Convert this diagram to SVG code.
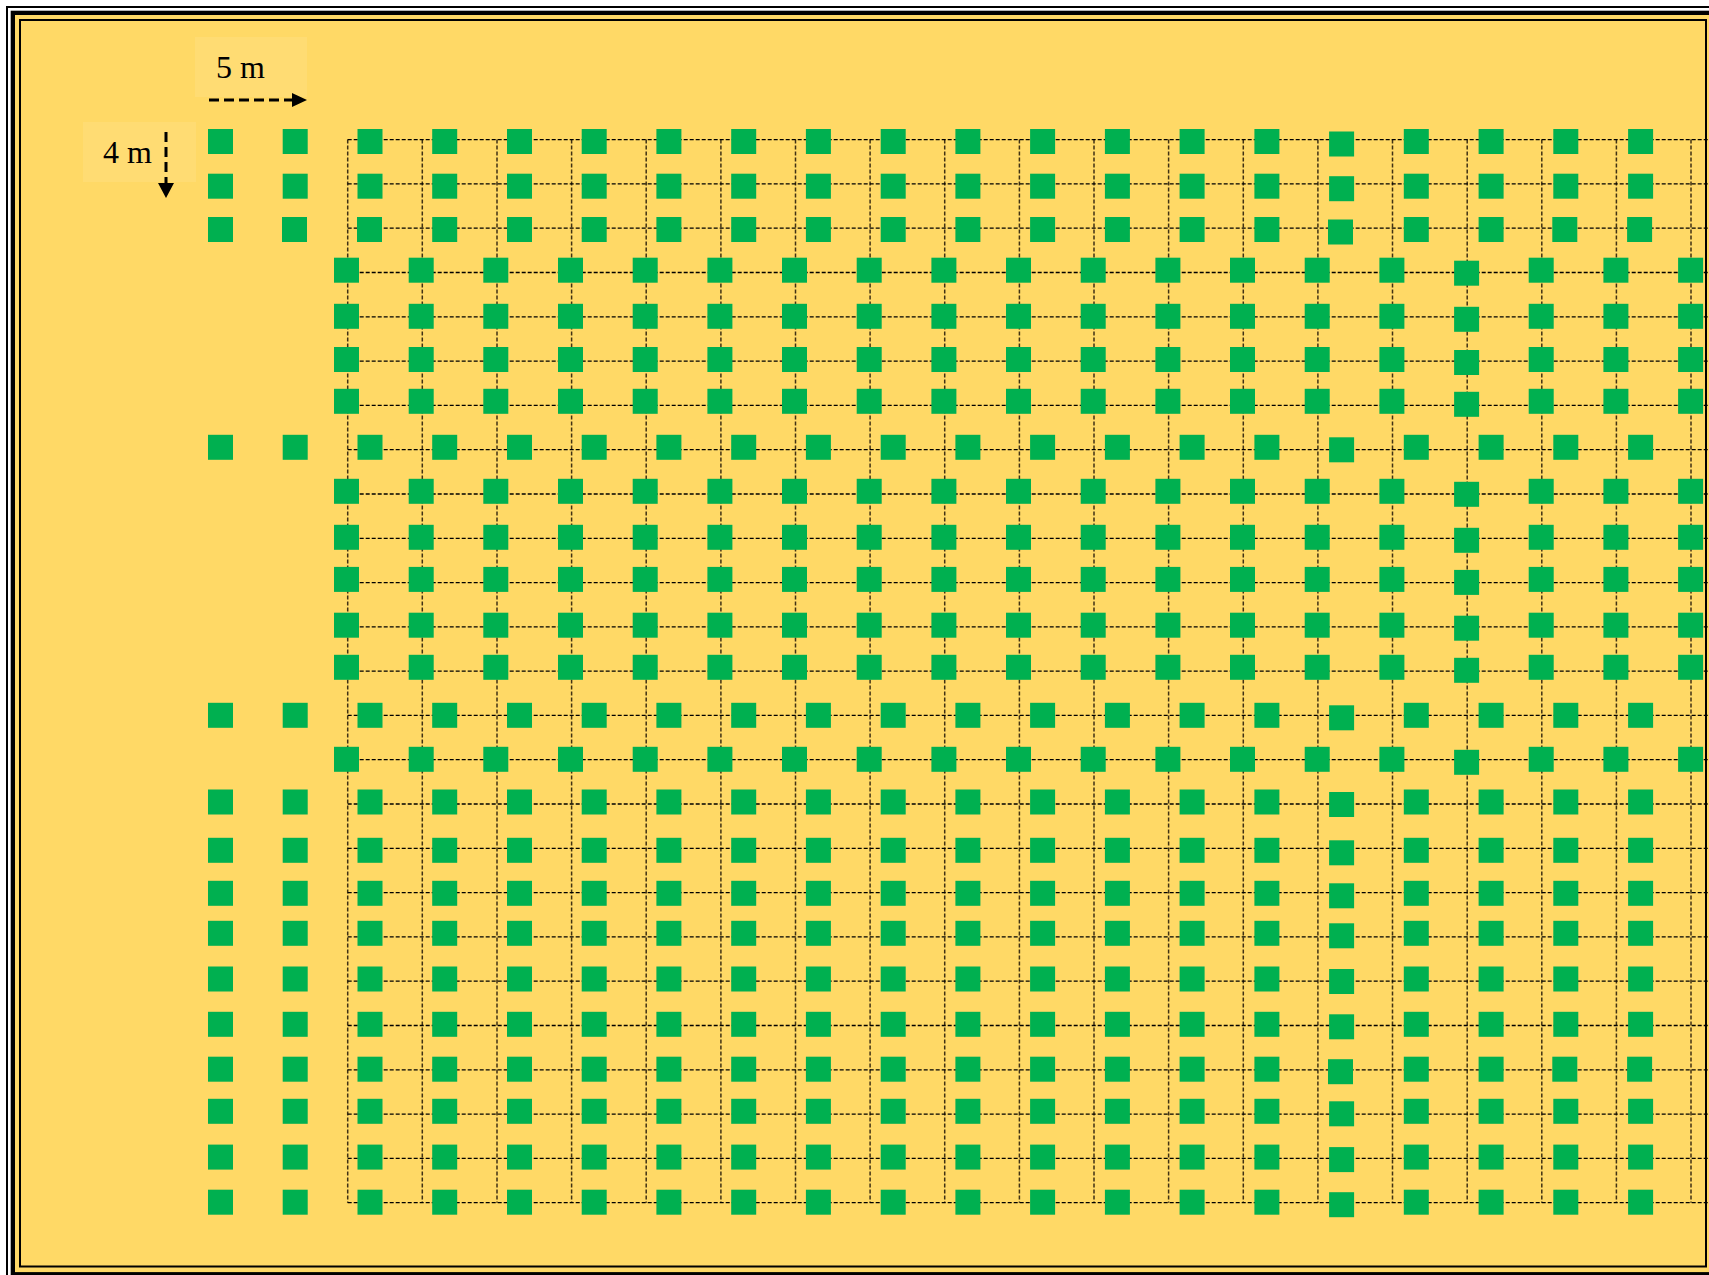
<svg xmlns="http://www.w3.org/2000/svg" xmlns:xlink="http://www.w3.org/1999/xlink" width="1709" height="1275" viewBox="0 0 1709 1275">
<style>
.p{fill:#00B050}
.h{fill:none;stroke:#000;stroke-width:1.3;stroke-dasharray:4 2}
.v{fill:none;stroke:#1e1406;stroke-width:1.5;stroke-dasharray:4 2;opacity:.85}
.lbl{font-family:"Liberation Serif","Times New Roman",serif;font-size:32px;fill:#000}
.box{fill:#fff;fill-opacity:.09}
.arr{fill:none;stroke:#000;stroke-width:3;stroke-dasharray:10 5}
</style>
<defs>
<rect id="s" class="p" width="25" height="25"/>
</defs>
<g id="frame">
<rect width="1709" height="1275" fill="#fff"/>
<rect x="7" y="7" width="1712" height="1273" fill="none" stroke="#000" stroke-width="2"/>
<rect x="12.85" y="12.85" width="1700.4" height="1261.4" fill="#FFD966" stroke="#000" stroke-width="4.3"/>
<rect x="20" y="20" width="1686" height="1246.5" fill="#FFD966" stroke="#000" stroke-width="2"/>
</g>
<g id="label-5m">
<rect class="box" x="195" y="37" width="112" height="60"/>
<text class="lbl" x="216" y="78">5 m</text>
<line class="arr" x1="209" y1="100" x2="292" y2="100"/>
<polygon points="292,93 307,100 292,107" fill="#000"/>
</g>
<g id="label-4m">
<rect class="box" x="83" y="122" width="113" height="60"/>
<text class="lbl" x="103" y="163">4 m</text>
<line class="arr" x1="166" y1="132" x2="166" y2="183"/>
<polygon points="158,183 174,183 166,198" fill="#000"/>
</g>
<g id="connectors">
<path class="v" d="M347.7 139.6V1202.7M422.3 139.6V1202.7M497 139.6V1202.7M571.6 139.6V1202.7M646.2 139.6V1202.7M720.9 139.6V1202.7M795.5 139.6V1202.7M870.1 139.6V1202.7M944.7 139.6V1202.7M1019.4 139.6V1202.7M1094 139.6V1202.7M1168.6 139.6V1202.7M1243.3 139.6V1202.7M1317.9 139.6V1202.7M1392.5 139.6V1202.7M1467.2 139.6V1202.7M1541.8 139.6V1202.7M1616.4 139.6V1202.7M1691 139.6V1202.7"/>
<path class="h" d="M347.7 139.6H1709M347.7 183.9H1709M347.7 228.2H1709M347.7 272.5H1709M347.7 316.8H1709M347.7 361.1H1709M347.7 405.4H1709M347.7 449.7H1709M347.7 494H1709M347.7 538.3H1709M347.7 582.6H1709M347.7 626.9H1709M347.7 671.2H1709M347.7 715.4H1709M347.7 759.7H1709M347.7 804H1709M347.7 848.3H1709M347.7 892.6H1709M347.7 936.9H1709M347.7 981.2H1709M347.7 1025.5H1709M347.7 1069.8H1709M347.7 1114.1H1709M347.7 1158.4H1709M347.7 1202.7H1709"/>
</g>
<g id="plants">
<g id="row01" transform="translate(0,129)"><use href="#s" x="208"/><use href="#s" x="282.7"/><use href="#s" x="357.5"/><use href="#s" x="432.2"/><use href="#s" x="507"/><use href="#s" x="581.7"/><use href="#s" x="656.4"/><use href="#s" x="731.2"/><use href="#s" x="805.9"/><use href="#s" x="880.7"/><use href="#s" x="955.4"/><use href="#s" x="1030.1"/><use href="#s" x="1104.9"/><use href="#s" x="1179.6"/><use href="#s" x="1254.4"/><use href="#s" x="1329.1" y="2.5"/><use href="#s" x="1403.8"/><use href="#s" x="1478.6"/><use href="#s" x="1553.3"/><use href="#s" x="1628.1"/></g>
<g id="row02" transform="translate(0,173.7)"><use href="#s" x="208"/><use href="#s" x="282.7"/><use href="#s" x="357.5"/><use href="#s" x="432.2"/><use href="#s" x="507"/><use href="#s" x="581.7"/><use href="#s" x="656.4"/><use href="#s" x="731.2"/><use href="#s" x="805.9"/><use href="#s" x="880.7"/><use href="#s" x="955.4"/><use href="#s" x="1030.1"/><use href="#s" x="1104.9"/><use href="#s" x="1179.6"/><use href="#s" x="1254.4"/><use href="#s" x="1329.1" y="2.5"/><use href="#s" x="1403.8"/><use href="#s" x="1478.6"/><use href="#s" x="1553.3"/><use href="#s" x="1628.1"/></g>
<g id="row03" transform="translate(0,217)"><use href="#s" x="208"/><use href="#s" x="282"/><use href="#s" x="357"/><use href="#s" x="432.2"/><use href="#s" x="507"/><use href="#s" x="581.7"/><use href="#s" x="656.4"/><use href="#s" x="731.2"/><use href="#s" x="805.9"/><use href="#s" x="880.7"/><use href="#s" x="955.4"/><use href="#s" x="1030.1"/><use href="#s" x="1104.9"/><use href="#s" x="1179.6"/><use href="#s" x="1254.4"/><use href="#s" x="1328" y="2.5"/><use href="#s" x="1403.8"/><use href="#s" x="1478.6"/><use href="#s" x="1552.3"/><use href="#s" x="1627.1"/></g>
<g id="row04" transform="translate(0,257.7)"><use href="#s" x="334"/><use href="#s" x="408.7"/><use href="#s" x="483.3"/><use href="#s" x="558"/><use href="#s" x="632.7"/><use href="#s" x="707.4"/><use href="#s" x="782"/><use href="#s" x="856.7"/><use href="#s" x="931.4"/><use href="#s" x="1006"/><use href="#s" x="1080.7"/><use href="#s" x="1155.4"/><use href="#s" x="1230"/><use href="#s" x="1304.7"/><use href="#s" x="1379.4"/><use href="#s" x="1454.1" y="3"/><use href="#s" x="1528.7"/><use href="#s" x="1603.4"/><use href="#s" x="1678.1"/></g>
<g id="row05" transform="translate(0,303.8)"><use href="#s" x="334"/><use href="#s" x="408.7"/><use href="#s" x="483.3"/><use href="#s" x="558"/><use href="#s" x="632.7"/><use href="#s" x="707.4"/><use href="#s" x="782"/><use href="#s" x="856.7"/><use href="#s" x="931.4"/><use href="#s" x="1006"/><use href="#s" x="1080.7"/><use href="#s" x="1155.4"/><use href="#s" x="1230"/><use href="#s" x="1304.7"/><use href="#s" x="1379.4"/><use href="#s" x="1454.1" y="3"/><use href="#s" x="1528.7"/><use href="#s" x="1603.4"/><use href="#s" x="1678.1"/></g>
<g id="row06" transform="translate(0,347)"><use href="#s" x="334"/><use href="#s" x="408.7"/><use href="#s" x="483.3"/><use href="#s" x="558"/><use href="#s" x="632.7"/><use href="#s" x="707.4"/><use href="#s" x="782"/><use href="#s" x="856.7"/><use href="#s" x="931.4"/><use href="#s" x="1006"/><use href="#s" x="1080.7"/><use href="#s" x="1155.4"/><use href="#s" x="1230"/><use href="#s" x="1304.7"/><use href="#s" x="1379.4"/><use href="#s" x="1454.1" y="3"/><use href="#s" x="1528.7"/><use href="#s" x="1603.4"/><use href="#s" x="1678.1"/></g>
<g id="row07" transform="translate(0,388.8)"><use href="#s" x="334"/><use href="#s" x="408.7"/><use href="#s" x="483.3"/><use href="#s" x="558"/><use href="#s" x="632.7"/><use href="#s" x="707.4"/><use href="#s" x="782"/><use href="#s" x="856.7"/><use href="#s" x="931.4"/><use href="#s" x="1006"/><use href="#s" x="1080.7"/><use href="#s" x="1155.4"/><use href="#s" x="1230"/><use href="#s" x="1304.7"/><use href="#s" x="1379.4"/><use href="#s" x="1454.1" y="3"/><use href="#s" x="1528.7"/><use href="#s" x="1603.4"/><use href="#s" x="1678.1"/></g>
<g id="row08" transform="translate(0,434.8)"><use href="#s" x="208"/><use href="#s" x="282.7"/><use href="#s" x="357.5"/><use href="#s" x="432.2"/><use href="#s" x="507"/><use href="#s" x="581.7"/><use href="#s" x="656.4"/><use href="#s" x="731.2"/><use href="#s" x="805.9"/><use href="#s" x="880.7"/><use href="#s" x="955.4"/><use href="#s" x="1030.1"/><use href="#s" x="1104.9"/><use href="#s" x="1179.6"/><use href="#s" x="1254.4"/><use href="#s" x="1329.1" y="2.5"/><use href="#s" x="1403.8"/><use href="#s" x="1478.6"/><use href="#s" x="1553.3"/><use href="#s" x="1628.1"/></g>
<g id="row09" transform="translate(0,478.8)"><use href="#s" x="334"/><use href="#s" x="408.7"/><use href="#s" x="483.3"/><use href="#s" x="558"/><use href="#s" x="632.7"/><use href="#s" x="707.4"/><use href="#s" x="782"/><use href="#s" x="856.7"/><use href="#s" x="931.4"/><use href="#s" x="1006"/><use href="#s" x="1080.7"/><use href="#s" x="1155.4"/><use href="#s" x="1230"/><use href="#s" x="1304.7"/><use href="#s" x="1379.4"/><use href="#s" x="1454.1" y="3"/><use href="#s" x="1528.7"/><use href="#s" x="1603.4"/><use href="#s" x="1678.1"/></g>
<g id="row10" transform="translate(0,524.8)"><use href="#s" x="334"/><use href="#s" x="408.7"/><use href="#s" x="483.3"/><use href="#s" x="558"/><use href="#s" x="632.7"/><use href="#s" x="707.4"/><use href="#s" x="782"/><use href="#s" x="856.7"/><use href="#s" x="931.4"/><use href="#s" x="1006"/><use href="#s" x="1080.7"/><use href="#s" x="1155.4"/><use href="#s" x="1230"/><use href="#s" x="1304.7"/><use href="#s" x="1379.4"/><use href="#s" x="1454.1" y="3"/><use href="#s" x="1528.7"/><use href="#s" x="1603.4"/><use href="#s" x="1678.1"/></g>
<g id="row11" transform="translate(0,566.9)"><use href="#s" x="334"/><use href="#s" x="408.7"/><use href="#s" x="483.3"/><use href="#s" x="558"/><use href="#s" x="632.7"/><use href="#s" x="707.4"/><use href="#s" x="782"/><use href="#s" x="856.7"/><use href="#s" x="931.4"/><use href="#s" x="1006"/><use href="#s" x="1080.7"/><use href="#s" x="1155.4"/><use href="#s" x="1230"/><use href="#s" x="1304.7"/><use href="#s" x="1379.4"/><use href="#s" x="1454.1" y="3"/><use href="#s" x="1528.7"/><use href="#s" x="1603.4"/><use href="#s" x="1678.1"/></g>
<g id="row12" transform="translate(0,612.7)"><use href="#s" x="334"/><use href="#s" x="408.7"/><use href="#s" x="483.3"/><use href="#s" x="558"/><use href="#s" x="632.7"/><use href="#s" x="707.4"/><use href="#s" x="782"/><use href="#s" x="856.7"/><use href="#s" x="931.4"/><use href="#s" x="1006"/><use href="#s" x="1080.7"/><use href="#s" x="1155.4"/><use href="#s" x="1230"/><use href="#s" x="1304.7"/><use href="#s" x="1379.4"/><use href="#s" x="1454.1" y="3"/><use href="#s" x="1528.7"/><use href="#s" x="1603.4"/><use href="#s" x="1678.1"/></g>
<g id="row13" transform="translate(0,654.8)"><use href="#s" x="334"/><use href="#s" x="408.7"/><use href="#s" x="483.3"/><use href="#s" x="558"/><use href="#s" x="632.7"/><use href="#s" x="707.4"/><use href="#s" x="782"/><use href="#s" x="856.7"/><use href="#s" x="931.4"/><use href="#s" x="1006"/><use href="#s" x="1080.7"/><use href="#s" x="1155.4"/><use href="#s" x="1230"/><use href="#s" x="1304.7"/><use href="#s" x="1379.4"/><use href="#s" x="1454.1" y="3"/><use href="#s" x="1528.7"/><use href="#s" x="1603.4"/><use href="#s" x="1678.1"/></g>
<g id="row14" transform="translate(0,702.8)"><use href="#s" x="208"/><use href="#s" x="282.7"/><use href="#s" x="357.5"/><use href="#s" x="432.2"/><use href="#s" x="507"/><use href="#s" x="581.7"/><use href="#s" x="656.4"/><use href="#s" x="731.2"/><use href="#s" x="805.9"/><use href="#s" x="880.7"/><use href="#s" x="955.4"/><use href="#s" x="1030.1"/><use href="#s" x="1104.9"/><use href="#s" x="1179.6"/><use href="#s" x="1254.4"/><use href="#s" x="1329.1" y="2.5"/><use href="#s" x="1403.8"/><use href="#s" x="1478.6"/><use href="#s" x="1553.3"/><use href="#s" x="1628.1"/></g>
<g id="row15" transform="translate(0,746.8)"><use href="#s" x="334"/><use href="#s" x="408.7"/><use href="#s" x="483.3"/><use href="#s" x="558"/><use href="#s" x="632.7"/><use href="#s" x="707.4"/><use href="#s" x="782"/><use href="#s" x="856.7"/><use href="#s" x="931.4"/><use href="#s" x="1006"/><use href="#s" x="1080.7"/><use href="#s" x="1155.4"/><use href="#s" x="1230"/><use href="#s" x="1304.7"/><use href="#s" x="1379.4"/><use href="#s" x="1454.1" y="3"/><use href="#s" x="1528.7"/><use href="#s" x="1603.4"/><use href="#s" x="1678.1"/></g>
<g id="row16" transform="translate(0,789.5)"><use href="#s" x="208"/><use href="#s" x="282.7"/><use href="#s" x="357.5"/><use href="#s" x="432.2"/><use href="#s" x="507"/><use href="#s" x="581.7"/><use href="#s" x="656.4"/><use href="#s" x="731.2"/><use href="#s" x="805.9"/><use href="#s" x="880.7"/><use href="#s" x="955.4"/><use href="#s" x="1030.1"/><use href="#s" x="1104.9"/><use href="#s" x="1179.6"/><use href="#s" x="1254.4"/><use href="#s" x="1329.1" y="2.5"/><use href="#s" x="1403.8"/><use href="#s" x="1478.6"/><use href="#s" x="1553.3"/><use href="#s" x="1628.1"/></g>
<g id="row17" transform="translate(0,837.8)"><use href="#s" x="208"/><use href="#s" x="282.7"/><use href="#s" x="357.5"/><use href="#s" x="432.2"/><use href="#s" x="507"/><use href="#s" x="581.7"/><use href="#s" x="656.4"/><use href="#s" x="731.2"/><use href="#s" x="805.9"/><use href="#s" x="880.7"/><use href="#s" x="955.4"/><use href="#s" x="1030.1"/><use href="#s" x="1104.9"/><use href="#s" x="1179.6"/><use href="#s" x="1254.4"/><use href="#s" x="1329.1" y="2.5"/><use href="#s" x="1403.8"/><use href="#s" x="1478.6"/><use href="#s" x="1553.3"/><use href="#s" x="1628.1"/></g>
<g id="row18" transform="translate(0,880.8)"><use href="#s" x="208"/><use href="#s" x="282.7"/><use href="#s" x="357.5"/><use href="#s" x="432.2"/><use href="#s" x="507"/><use href="#s" x="581.7"/><use href="#s" x="656.4"/><use href="#s" x="731.2"/><use href="#s" x="805.9"/><use href="#s" x="880.7"/><use href="#s" x="955.4"/><use href="#s" x="1030.1"/><use href="#s" x="1104.9"/><use href="#s" x="1179.6"/><use href="#s" x="1254.4"/><use href="#s" x="1329.1" y="2.5"/><use href="#s" x="1403.8"/><use href="#s" x="1478.6"/><use href="#s" x="1553.3"/><use href="#s" x="1628.1"/></g>
<g id="row19" transform="translate(0,920.8)"><use href="#s" x="208"/><use href="#s" x="282.7"/><use href="#s" x="357.5"/><use href="#s" x="432.2"/><use href="#s" x="507"/><use href="#s" x="581.7"/><use href="#s" x="656.4"/><use href="#s" x="731.2"/><use href="#s" x="805.9"/><use href="#s" x="880.7"/><use href="#s" x="955.4"/><use href="#s" x="1030.1"/><use href="#s" x="1104.9"/><use href="#s" x="1179.6"/><use href="#s" x="1254.4"/><use href="#s" x="1329.1" y="2.5"/><use href="#s" x="1403.8"/><use href="#s" x="1478.6"/><use href="#s" x="1553.3"/><use href="#s" x="1628.1"/></g>
<g id="row20" transform="translate(0,966.5)"><use href="#s" x="208"/><use href="#s" x="282.7"/><use href="#s" x="357.5"/><use href="#s" x="432.2"/><use href="#s" x="507"/><use href="#s" x="581.7"/><use href="#s" x="656.4"/><use href="#s" x="731.2"/><use href="#s" x="805.9"/><use href="#s" x="880.7"/><use href="#s" x="955.4"/><use href="#s" x="1030.1"/><use href="#s" x="1104.9"/><use href="#s" x="1179.6"/><use href="#s" x="1254.4"/><use href="#s" x="1329.1" y="2.5"/><use href="#s" x="1403.8"/><use href="#s" x="1478.6"/><use href="#s" x="1553.3"/><use href="#s" x="1628.1"/></g>
<g id="row21" transform="translate(0,1011.8)"><use href="#s" x="208"/><use href="#s" x="282.7"/><use href="#s" x="357.5"/><use href="#s" x="432.2"/><use href="#s" x="507"/><use href="#s" x="581.7"/><use href="#s" x="656.4"/><use href="#s" x="731.2"/><use href="#s" x="805.9"/><use href="#s" x="880.7"/><use href="#s" x="955.4"/><use href="#s" x="1030.1"/><use href="#s" x="1104.9"/><use href="#s" x="1179.6"/><use href="#s" x="1254.4"/><use href="#s" x="1329.1" y="2.5"/><use href="#s" x="1403.8"/><use href="#s" x="1478.6"/><use href="#s" x="1553.3"/><use href="#s" x="1628.1"/></g>
<g id="row22" transform="translate(0,1056.7)"><use href="#s" x="208"/><use href="#s" x="282.7"/><use href="#s" x="357.5"/><use href="#s" x="432.2"/><use href="#s" x="507"/><use href="#s" x="581.7"/><use href="#s" x="656.4"/><use href="#s" x="731.2"/><use href="#s" x="805.9"/><use href="#s" x="880.7"/><use href="#s" x="955.4"/><use href="#s" x="1030.1"/><use href="#s" x="1104.9"/><use href="#s" x="1179.6"/><use href="#s" x="1254.4"/><use href="#s" x="1328" y="2.5"/><use href="#s" x="1403.8"/><use href="#s" x="1478.6"/><use href="#s" x="1552.3"/><use href="#s" x="1627.1"/></g>
<g id="row23" transform="translate(0,1098.8)"><use href="#s" x="208"/><use href="#s" x="282.7"/><use href="#s" x="357.5"/><use href="#s" x="432.2"/><use href="#s" x="507"/><use href="#s" x="581.7"/><use href="#s" x="656.4"/><use href="#s" x="731.2"/><use href="#s" x="805.9"/><use href="#s" x="880.7"/><use href="#s" x="955.4"/><use href="#s" x="1030.1"/><use href="#s" x="1104.9"/><use href="#s" x="1179.6"/><use href="#s" x="1254.4"/><use href="#s" x="1329.1" y="2.5"/><use href="#s" x="1403.8"/><use href="#s" x="1478.6"/><use href="#s" x="1553.3"/><use href="#s" x="1628.1"/></g>
<g id="row24" transform="translate(0,1144.6)"><use href="#s" x="208"/><use href="#s" x="282.7"/><use href="#s" x="357.5"/><use href="#s" x="432.2"/><use href="#s" x="507"/><use href="#s" x="581.7"/><use href="#s" x="656.4"/><use href="#s" x="731.2"/><use href="#s" x="805.9"/><use href="#s" x="880.7"/><use href="#s" x="955.4"/><use href="#s" x="1030.1"/><use href="#s" x="1104.9"/><use href="#s" x="1179.6"/><use href="#s" x="1254.4"/><use href="#s" x="1329.1" y="2.5"/><use href="#s" x="1403.8"/><use href="#s" x="1478.6"/><use href="#s" x="1553.3"/><use href="#s" x="1628.1"/></g>
<g id="row25" transform="translate(0,1189.7)"><use href="#s" x="208"/><use href="#s" x="282.7"/><use href="#s" x="357.5"/><use href="#s" x="432.2"/><use href="#s" x="507"/><use href="#s" x="581.7"/><use href="#s" x="656.4"/><use href="#s" x="731.2"/><use href="#s" x="805.9"/><use href="#s" x="880.7"/><use href="#s" x="955.4"/><use href="#s" x="1030.1"/><use href="#s" x="1104.9"/><use href="#s" x="1179.6"/><use href="#s" x="1254.4"/><use href="#s" x="1329.1" y="2.5"/><use href="#s" x="1403.8"/><use href="#s" x="1478.6"/><use href="#s" x="1553.3"/><use href="#s" x="1628.1"/></g>
</g>
</svg>
